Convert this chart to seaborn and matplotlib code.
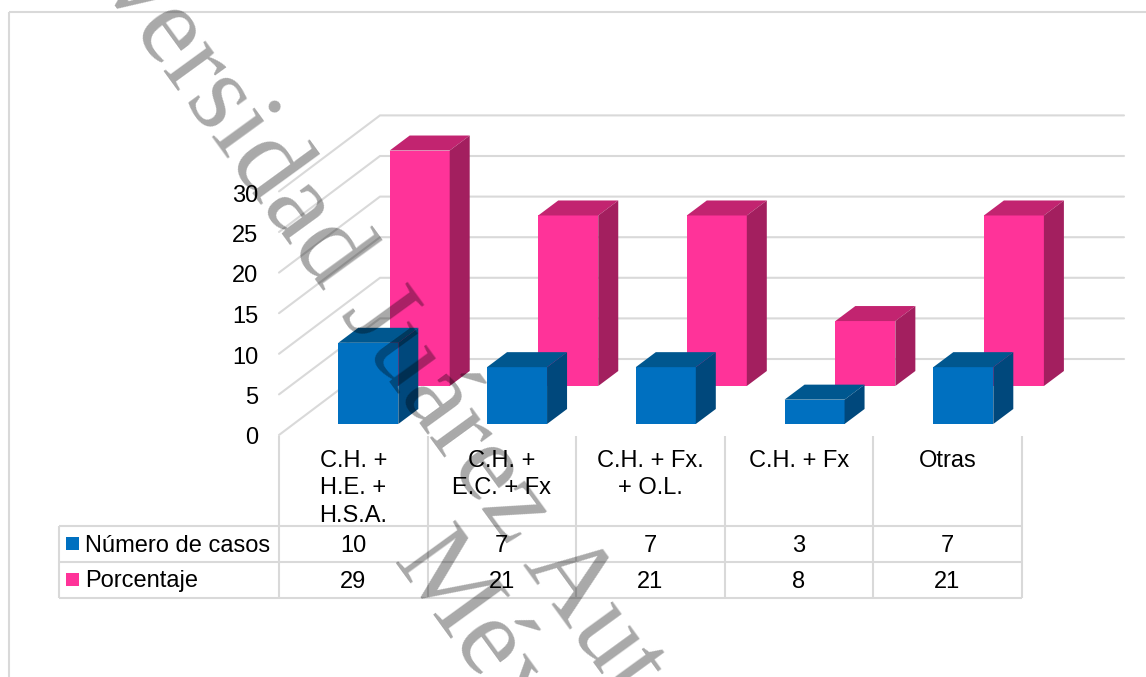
import matplotlib
matplotlib.use("Agg")
import matplotlib.pyplot as plt
import seaborn as sns
from matplotlib.patches import Polygon, Rectangle

# Diagnosis combinations and their counts
categories = ["C.H. +\nH.E. +\nH.S.A.", "C.H. +\nE.C. + Fx", "C.H. + Fx.\n+ O.L.", "C.H. + Fx", "Otras"]
series_names = ["Número de casos", "Porcentaje"]
casos = [10, 7, 7, 3, 7]
porcentaje = [29, 21, 21, 8, 21]
y_ticks = [0, 5, 10, 15, 20, 25, 30]
watermark_main = "Universidad Juárez Autónoma"
watermark_second = "México"

W, H = 1146, 677
GRID = "#d9d9d9"
BLUE = ("#0070c0", "#00578f", "#00487c")
PINK = ("#ff3399", "#c22470", "#a31f5f")
FONT = "Liberation Sans"
FS = 17
PX_PER_UNIT = 8.12
SLOT = 148.5
DEPTH_X, DEPTH_Y = 20, 15

sns.set_theme(style="white")
plt.rcParams["font.family"] = [FONT, "DejaVu Sans"]

fig = plt.figure(figsize=(W / 100, H / 100), dpi=100, facecolor="white")


def axes_px(left, top, right, bottom, z):
    ax = fig.add_axes([left / W, 1 - bottom / H, (right - left) / W, (bottom - top) / H], zorder=z)
    ax.patch.set_alpha(0)
    return ax


# Page-level layer in pixel units: outer frame, data table and axis labels
page = axes_px(0, 0, W, H, 0)
page.set_xlim(0, W)
page.set_ylim(H, 0)
page.axis("off")
line = dict(color=GRID, lw=1.5, solid_capstyle="butt")
page.plot([9, 9], [12, H], **line)
page.plot([9, W], [12, 12], **line)

columns = [279 + SLOT * i for i in range(6)]
for x in columns:
    page.plot([x, x], [436, 598], **line)
page.plot([59, 59], [526, 598], **line)
for y in (526, 562, 598):
    page.plot([59, columns[-1]], [y, y], **line)

text = dict(fontsize=FS, color="black", ha="center", va="center")
for i, label in enumerate(categories):
    cx = columns[i] + SLOT / 2
    for j, part in enumerate(label.split("\n")):
        page.text(cx, 461 + 27.3 * j, part, **text)
    page.text(cx, 546, str(casos[i]), **text)
    page.text(cx, 582, str(porcentaje[i]), **text)

for name, colors, y in zip(series_names, (BLUE, PINK), (543.5, 579.5)):
    page.add_patch(Rectangle((66, y - 6.5), 13, 13, color=colors[0], lw=0))
    page.text(85, y + 2, name, fontsize=FS, ha="left", va="center", color="black")

# Back wall with the value gridlines and their receding side lines
wall = axes_px(380, 359 - 30 * PX_PER_UNIT, 1124, 359, 1)
wall.set_xlim(0, 744)
wall.set_ylim(0, 30)
wall.axis("off")
for v in y_ticks:
    wall.plot([-101, 0, 744], [v - 76 / PX_PER_UNIT, v, v], color=GRID, lw=1.5,
              clip_on=False, solid_joinstyle="miter")
    page.text(258, 438.5 - v * 8.1, str(v), fontsize=FS, ha="right", va="center", color="black")


def extrude(ax, colors, slot):
    """Add the top and right faces to every bar of an axes."""
    dx = DEPTH_X / slot
    dy = DEPTH_Y / PX_PER_UNIT
    for bar in ax.patches[:]:
        x0, x1, h = bar.get_x(), bar.get_x() + bar.get_width(), bar.get_height()
        ax.add_patch(Polygon([(x0, h), (x0 + dx, h + dy), (x1 + dx, h + dy), (x1, h)],
                             closed=True, fc=colors[1], lw=0, clip_on=False))
        ax.add_patch(Polygon([(x1, 0), (x1 + dx, dy), (x1 + dx, h + dy), (x1, h)],
                             closed=True, fc=colors[2], lw=0, clip_on=False))


def series_axes(values, colors, center0, slot, baseline, z):
    left = center0 - slot / 2
    ax = axes_px(left, baseline - 30 * PX_PER_UNIT, left + 5 * slot, baseline, z)
    sns.barplot(x=categories, y=values, color=colors[0], saturation=1, width=60 / slot,
                linewidth=0, ax=ax)
    ax.set_xlim(-0.5, 4.5)
    ax.set_ylim(0, 30)
    ax.axis("off")
    extrude(ax, colors, slot)
    return ax


series_axes(porcentaje, PINK, 419.7, 148.55, 386, 2)
series_axes(casos, BLUE, 368.3, 148.75, 424, 3)

# Diagonal watermark across the whole page
over = axes_px(0, 0, W, H, 5)
over.set_xlim(0, W)
over.set_ylim(H, 0)
over.axis("off")
mark = dict(family="Liberation Serif", fontsize=81, color="black", alpha=0.34, rotation=-54,
            rotation_mode="anchor", ha="left", va="baseline", clip_on=True)
over.text(0, -154, watermark_main, **mark)
over.text(392, 562, watermark_second, **mark)

fig.savefig("out.png", dpi=100)
